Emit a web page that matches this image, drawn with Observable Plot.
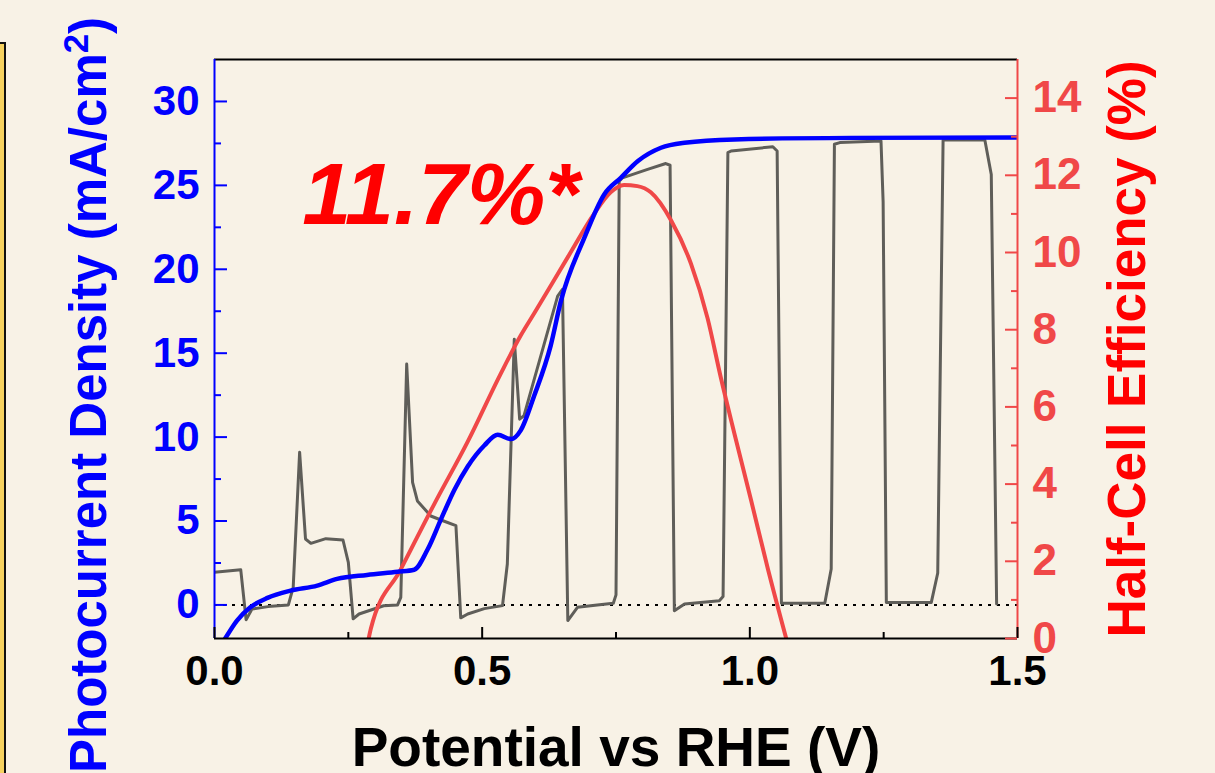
<!DOCTYPE html>
<html><head><meta charset="utf-8">
<script src="https://cdn.jsdelivr.net/npm/d3@7"></script>
<script src="https://cdn.jsdelivr.net/npm/@observablehq/plot@0.6"></script>
<style>
html,body{margin:0;padding:0;background:#f8f2e6;overflow:hidden}
#wrap{position:relative;width:1215px;height:773px;background:#f8f2e6}
#box{position:absolute;left:-20px;top:42px;width:26px;height:800px;background:#f6d260;border:2px solid #111;box-sizing:border-box}
#wrap svg{position:absolute;left:0;top:0}
</style></head><body><div id="wrap"><div id="box"></div></div>
<script>
// Chopped-light photocurrent (gray)
const choppedV = [0.000,0.049,0.059,0.070,0.100,0.138,0.147,0.159,0.170,0.180,0.208,0.240,0.250,0.259,0.270,0.316,0.342,0.348,0.359,0.370,0.379,0.404,0.423,0.451,0.460,0.473,0.504,0.538,0.547,0.560,0.570,0.578,0.641,0.650,0.660,0.678,0.715,0.745,0.750,0.756,0.762,0.809,0.843,0.851,0.859,0.878,0.943,0.950,0.959,0.965,1.043,1.051,1.059,1.140,1.152,1.158,1.168,1.245,1.249,1.255,1.339,1.351,1.361,1.439,1.451,1.461];
const choppedJ = [1.95,2.10,-0.88,-0.25,-0.10,0.00,1.05,9.10,3.93,3.67,3.95,3.87,2.54,-0.83,-0.54,-0.05,0.00,0.45,14.35,7.30,6.20,5.30,5.06,4.72,-0.77,-0.54,-0.22,-0.04,2.44,15.83,11.07,11.27,18.40,18.80,-0.93,-0.14,0.00,0.10,0.60,25.25,25.45,25.95,26.30,26.20,-0.34,0.05,0.25,0.50,26.95,27.05,27.30,27.05,0.10,0.10,2.14,27.45,27.55,27.65,24.00,0.15,0.15,1.90,27.70,27.70,25.65,0.06];
// Light J-V (blue)
const lightV = [0.020,0.042,0.067,0.099,0.142,0.192,0.229,0.285,0.342,0.373,0.398,0.423,0.448,0.473,0.504,0.529,0.554,0.572,0.597,0.628,0.647,0.691,0.728,0.759,0.791,0.834,0.878,0.971,1.190,1.500];
const lightJ = [-2.00,-0.93,-0.14,0.42,0.85,1.15,1.55,1.79,1.98,2.10,3.30,5.10,6.85,8.25,9.50,10.14,9.88,10.40,12.45,15.45,18.10,21.88,24.46,25.45,26.45,27.24,27.54,27.74,27.83,27.85];
// Half-cell efficiency (red)
const effV = [0.288,0.292,0.348,0.410,0.473,0.535,0.572,0.597,0.660,0.709,0.740,0.765,0.790,0.815,0.853,0.890,0.921,0.946,0.971,1.002,1.034,1.068];
const effPct = [0.00,0.25,1.79,3.47,5.10,6.87,7.85,8.42,9.88,11.00,11.56,11.75,11.72,11.56,10.83,9.71,8.30,6.75,5.32,3.60,1.79,0.00];

const xTicks = [0, 0.5, 1.0, 1.5];
const xMinor = [0.25, 0.75, 1.25];
const yTicks = [0, 5, 10, 15, 20, 25, 30];
const yMinor = [2.5, 7.5, 12.5, 17.5, 22.5, 27.5];
const effTicks = [0, 2, 4, 6, 8, 10, 12, 14];
const effMinor = [1, 3, 5, 7, 9, 11, 13];
const annotX = [0.423], annotY = [24.4], annotText = ["11.7%*"];
const xTitle = "Potential vs RHE (V)";
const yTitle = "Photocurrent Density (mA/cm²)";
const effTitle = "Half-Cell Efficiency (%)";

const yMin = -2, yMax = 32.5, effMax = 15;
const toY = e => yMin + e * (yMax - yMin) / effMax;
const fromY = y => (y - yMin) * effMax / (yMax - yMin);

const W = 1215, H = 773, mL = 214, mR = 198, mT = 59, mB = 135;
const iW = W - mL - mR, iH = H - mT - mB;
const FONT = "'Liberation Sans', Arial, Helvetica, sans-serif";
const BLUE = "#0000ff", RED = "#f04848", GRAY = "#5f5e59";
const idx = a => a.map((_, i) => i);

const chart = Plot.plot({
  width: W, height: H,
  marginLeft: mL, marginRight: mR, marginTop: mT, marginBottom: mB,
  style: {background: "transparent", fontFamily: FONT, overflow: "visible"},
  x: {domain: [0, 1.5]},
  y: {domain: [yMin, yMax]},
  marks: [
    Plot.ruleY([0], {stroke: "#000", strokeWidth: 2, strokeDasharray: "3,6"}),
    Plot.line(idx(choppedV), {x: i => choppedV[i], y: i => choppedJ[i], stroke: GRAY, strokeWidth: 3, clip: true}),
    Plot.line(idx(effV), {x: i => effV[i], y: i => toY(effPct[i]), stroke: RED, strokeWidth: 4, curve: "monotone-x", clip: true}),
    Plot.line(idx(lightV), {x: i => lightV[i], y: i => lightJ[i], stroke: BLUE, strokeWidth: 4.5, curve: "monotone-x", clip: true}),
    // frame
    Plot.ruleY([yMin], {stroke: "#000", strokeWidth: 2}),
    Plot.ruleY([yMax], {stroke: "#000", strokeWidth: 2}),
    Plot.ruleX([0], {stroke: BLUE, strokeWidth: 2}),
    Plot.ruleX([1.5], {stroke: RED, strokeWidth: 2}),
    // inward ticks
    Plot.ruleX(xTicks, {stroke: "#000", strokeWidth: 2, insetTop: iH - 11}),
    Plot.ruleX(xMinor, {stroke: "#000", strokeWidth: 2, insetTop: iH - 6}),
    Plot.ruleY(yTicks, {stroke: BLUE, strokeWidth: 2, insetRight: iW - 13}),
    Plot.ruleY(yMinor, {stroke: BLUE, strokeWidth: 2, insetRight: iW - 7}),
    Plot.ruleY(effTicks.map(toY), {stroke: RED, strokeWidth: 2, insetLeft: iW - 12}),
    Plot.ruleY(effMinor.map(toY), {stroke: RED, strokeWidth: 2, insetLeft: iW - 6}),
    // tick labels
    Plot.axisX(xTicks, {anchor: "bottom", tickSize: 0, tickPadding: 17, fontSize: 42, fontWeight: "bold", fill: "#000", tickFormat: d => d.toFixed(1), label: null}),
    Plot.axisY(yTicks, {anchor: "left", tickSize: 0, tickPadding: 15, fontSize: 42, fontWeight: "bold", fill: BLUE, label: null}),
    Plot.axisY(effTicks.map(toY), {anchor: "right", tickSize: 0, tickPadding: 15, fontSize: 44, fontWeight: "bold", fill: RED, tickFormat: y => String(Math.round(fromY(y))), label: null}),
    // titles
    Plot.text([xTitle], {frameAnchor: "bottom", text: d => d, lineAnchor: "top", dy: 88, fontSize: 55, fontWeight: "bold", fill: "#000", fontFamily: FONT}),
    Plot.text([yTitle], {frameAnchor: "left", text: d => d, rotate: -90, textAnchor: "middle", lineAnchor: "top", dx: -145, dy: 46, fontSize: 51, fontWeight: "bold", fill: BLUE, fontFamily: FONT}),
    Plot.text([effTitle], {frameAnchor: "right", text: d => d, rotate: -90, textAnchor: "middle", lineAnchor: "bottom", dx: 127, dy: 0, fontSize: 53, fontWeight: "bold", fill: "#ff0000", fontFamily: FONT}),
    // annotation
    Plot.text(idx(annotX), {x: i => annotX[i], y: i => annotY[i], text: i => annotText[i], fontSize: 88, fontWeight: "bold", fontStyle: "italic", fill: "#ff0000", fontFamily: FONT})
  ]
});
// render the "²" as a proper superscript
d3.select(chart).selectAll("text").filter(function () { return this.textContent === yTitle; }).each(function () {
  const t = d3.select(this);
  const [pre, post] = yTitle.split("²");
  t.text(null);
  t.append("tspan").text(pre);
  t.append("tspan").attr("dy", "-0.5em").attr("font-size", "0.68em").text("2");
  t.append("tspan").attr("dy", "0.34em").text(post);
});
document.getElementById("wrap").appendChild(chart);
</script>
</body></html>
